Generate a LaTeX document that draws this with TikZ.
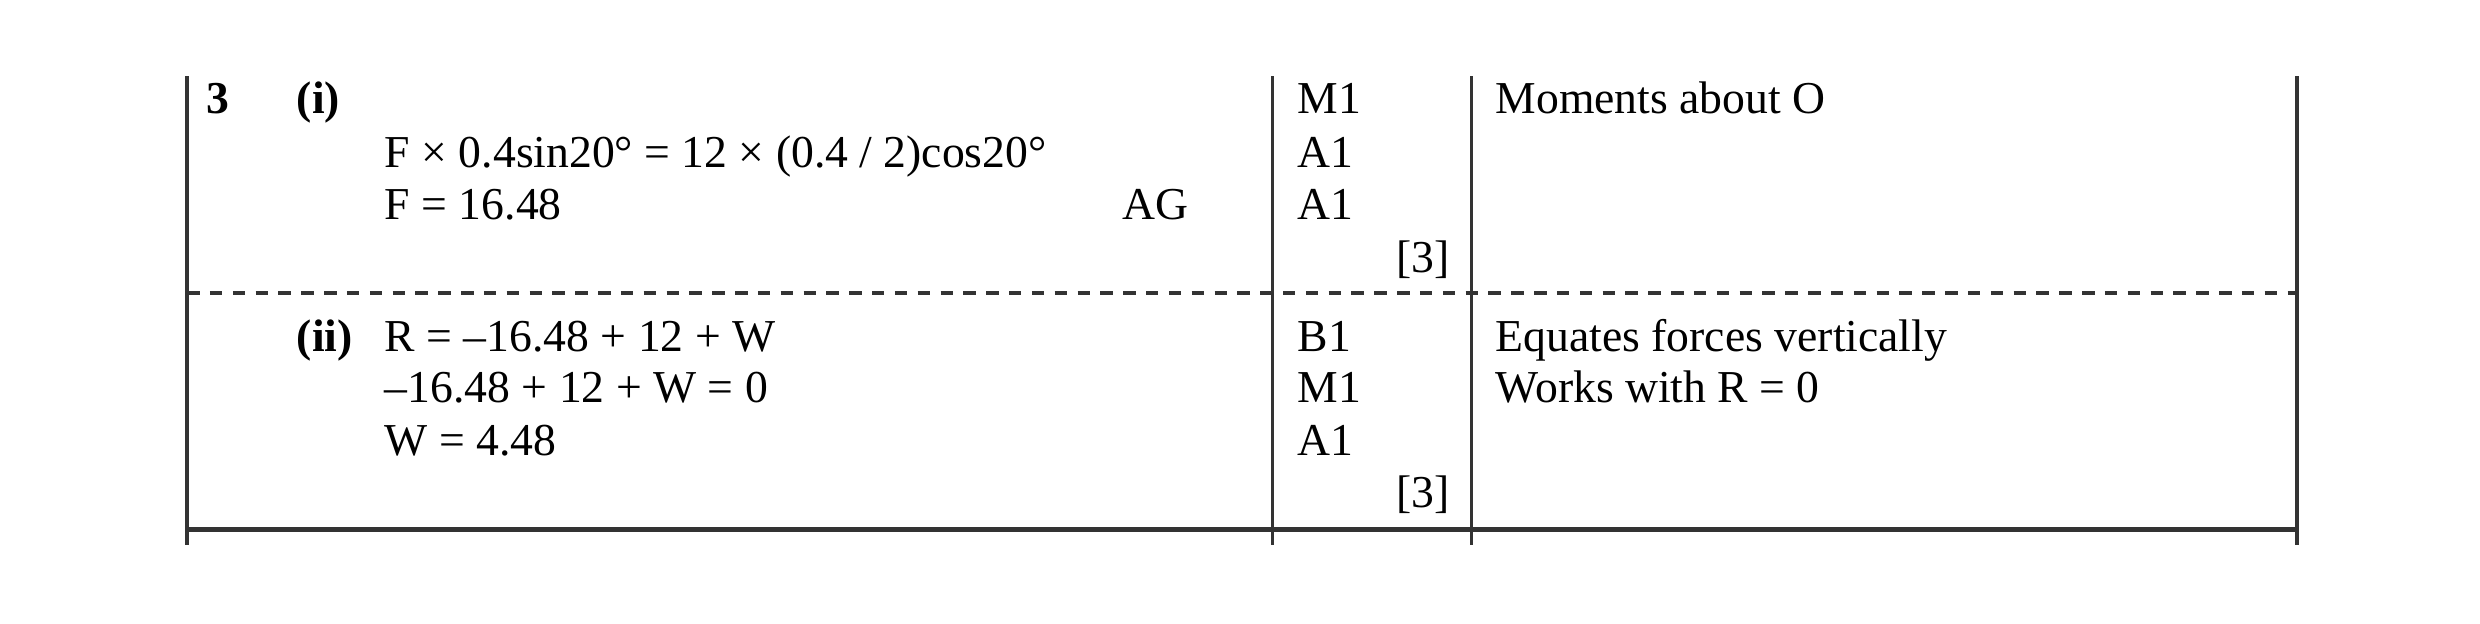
\documentclass[tikz,border=0pt]{standalone}
\usepackage{fontspec}
\setmainfont{Liberation Serif}
\begin{document}
\begin{tikzpicture}[x=0.08467mm,y=-0.08467mm,
 t/.style={anchor=base west,inner sep=0pt,font=\fontsize{11}{13}\selectfont},
 tb/.style={t,font=\fontsize{11}{13}\selectfont\bfseries},
 ln/.style={line width=0.8pt,draw=black!80}]
\useasboundingbox (0,0) rectangle (2480,624);
\begin{scope}[scale=0.99]
\coordinate (tl) at (189,77); \coordinate (bl) at (189,551);
\coordinate (c1t) at (1285,77); \coordinate (c1b) at (1285,551);
\coordinate (c2t) at (1486,77); \coordinate (c2b) at (1486,551);
\coordinate (rt) at (2320,77); \coordinate (rb) at (2320,551);
\coordinate (dl) at (189,296); \coordinate (dr) at (2320,296);
\coordinate (hl) at (189,535); \coordinate (hr) at (2320,535);
\draw[ln] (tl)--(bl) (c1t)--(c1b) (c2t)--(c2b) (rt)--(rb);
\draw[ln,dash pattern=on 3pt off 2.5pt] (dl)--(dr);
\draw[line width=1.2pt,draw=black!80] (hl)--(hr);
\node[tb] (q) at (208,115) {3};
\node[tb] (p1) at (299,115) {(i)};
\node[t] (e1) at (388,169) {F × 0.4sin20° = 12 × (0.4 / 2)cos20°};
\node[t] (e2) at (388,222) {F = 16.48};
\node[t] (ag) at (1133,222) {AG};
\node[t] (m1) at (1310,115) {M1};
\node[t] (m2) at (1310,169) {A1};
\node[t] (m3) at (1310,222) {A1};
\node[t,anchor=base east] (m4) at (1465,275) {[3]};
\node[t] (c1) at (1510,115) {Moments about O};
\node[tb] (p2) at (299,355) {(ii)};
\node[t] (f1) at (388,355) {R = –16.48 + 12 + W};
\node[t] (f2) at (388,407) {–16.48 + 12 + W = 0};
\node[t] (f3) at (388,460) {W = 4.48};
\node[t] (n1) at (1310,355) {B1};
\node[t] (n2) at (1310,407) {M1};
\node[t] (n3) at (1310,460) {A1};
\node[t,anchor=base east] (n4) at (1465,513) {[3]};
\node[t] (d1) at (1510,355) {Equates forces vertically};
\node[t] (d2) at (1510,407) {Works with R = 0};
\end{scope}
\end{tikzpicture}
\end{document}
